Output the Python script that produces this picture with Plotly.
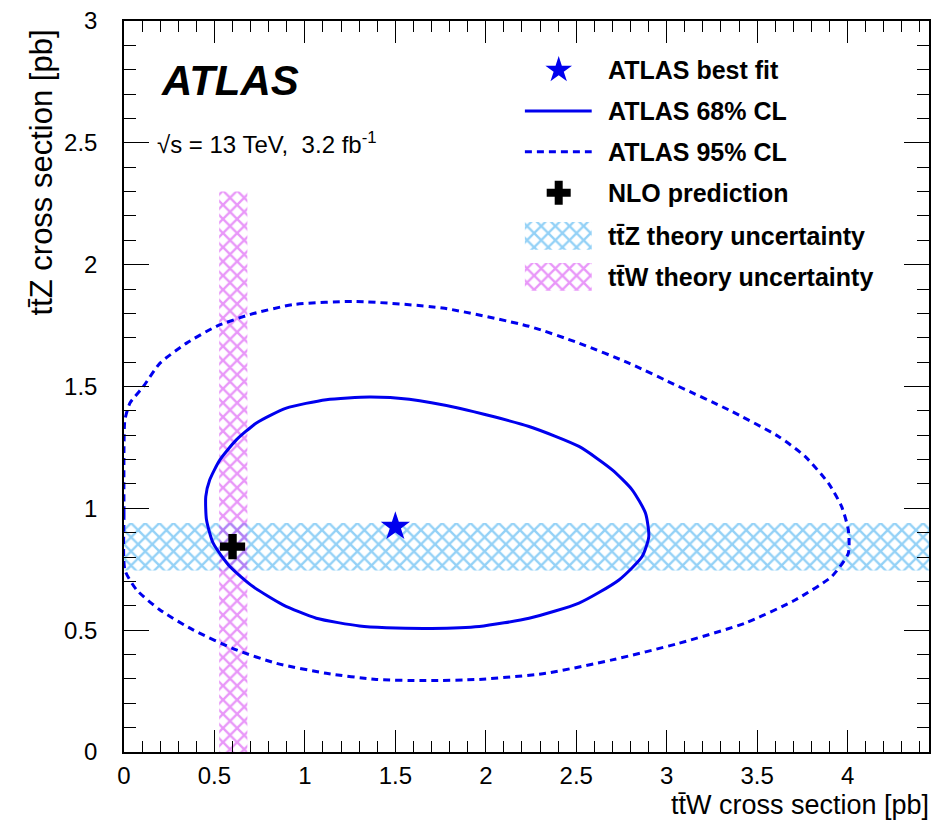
import plotly.graph_objects as go

# ---- measured / predicted values (pb) ----
best_fit_ttW = [1.50]
best_fit_ttZ = [0.925]

nlo_ttW = [0.60]
nlo_ttZ = [0.843]

ttZ_theory_band = [0.745, 0.940]      # lower, upper on ttZ
ttW_theory_band = [0.526, 0.682]      # lower, upper on ttW
ttW_band_height = 2.30                # vertical extent of the ttW band

# 68% CL contour (ttW, ttZ)
cl68_ttW = [0.452, 0.474, 0.530, 0.621, 0.732, 0.897, 1.118, 1.357, 1.577, 1.853,
            2.239, 2.515, 2.699, 2.809, 2.883, 2.901, 2.864, 2.736, 2.515, 2.239,
            1.964, 1.700, 1.450, 1.302, 1.063, 0.879, 0.713, 0.585, 0.493, 0.456, 0.452]
cl68_ttZ = [1.048, 1.117, 1.199, 1.281, 1.350, 1.411, 1.446, 1.457, 1.448, 1.411,
            1.336, 1.254, 1.158, 1.076, 0.980, 0.884, 0.802, 0.706, 0.611, 0.549,
            0.515, 0.507, 0.510, 0.517, 0.549, 0.604, 0.679, 0.761, 0.857, 0.953, 1.048]

# 95% CL contour (ttW, ttZ)
cl95_ttW = [0.005, 0.000, 0.000, 0.005, 0.033, 0.107, 0.199, 0.346, 0.511, 0.695,
            0.934, 1.283, 1.761, 2.239, 2.515, 2.791, 3.067, 3.343, 3.618, 3.765,
            3.894, 3.967, 4.004, 4.004, 3.912, 3.710, 3.434, 3.067, 2.699, 2.331,
            1.964, 1.670, 1.394, 1.118, 0.842, 0.621, 0.382, 0.199, 0.070, 0.005]
cl95_ttZ = [0.747, 0.980, 1.254, 1.363, 1.432, 1.500, 1.596, 1.678, 1.747, 1.795,
            1.836, 1.849, 1.822, 1.747, 1.678, 1.596, 1.500, 1.404, 1.295, 1.213,
            1.103, 1.007, 0.912, 0.816, 0.720, 0.624, 0.529, 0.446, 0.378, 0.323,
            0.298, 0.293, 0.298, 0.323, 0.364, 0.419, 0.501, 0.583, 0.665, 0.747]

x_range = [0.0, 4.45]
y_range = [0.0, 3.0]
tick_vals = [0, 0.5, 1, 1.5, 2, 2.5, 3, 3.5, 4]
tick_text = ["0", "0.5", "1", "1.5", "2", "2.5", "3", "3.5", "4"]

legend_labels = ["ATLAS best fit", "ATLAS 68% CL", "ATLAS 95% CL", "NLO prediction",
                 "tt\u0304Z theory uncertainty", "tt\u0304W theory uncertainty"]

# ---- styling ----
FONT = "Liberation Sans, Arial, Helvetica, sans-serif"
BLUE = "#0000ee"
ZCOL = "#2aa4ee"
WCOL = "#d22ff2"


def hatch(color):
    return dict(shape="x", fgcolor=color, bgcolor="rgba(0,0,0,0)", size=10, solidity=0.42)


fig = go.Figure()

# ttZ theory band across the full ttW range
fig.add_trace(go.Scatter(
    x=[x_range[0], x_range[1], x_range[1], x_range[0], x_range[0]],
    y=[ttZ_theory_band[0], ttZ_theory_band[0], ttZ_theory_band[1], ttZ_theory_band[1], ttZ_theory_band[0]],
    fill="toself", fillcolor="rgba(0,0,0,0)", fillpattern=hatch(ZCOL),
    mode="lines", line=dict(width=0), hoverinfo="skip", showlegend=False))

# ttW theory band
fig.add_trace(go.Scatter(
    x=[ttW_theory_band[0], ttW_theory_band[1], ttW_theory_band[1], ttW_theory_band[0], ttW_theory_band[0]],
    y=[0, 0, ttW_band_height, ttW_band_height, 0],
    fill="toself", fillcolor="rgba(0,0,0,0)", fillpattern=hatch(WCOL),
    mode="lines", line=dict(width=0), hoverinfo="skip", showlegend=False))

# confidence contours
fig.add_trace(go.Scatter(x=cl95_ttW, y=cl95_ttZ, mode="lines",
                         line=dict(color=BLUE, width=3, dash="7px,5px", shape="spline", smoothing=0.6),
                         showlegend=False))
fig.add_trace(go.Scatter(x=cl68_ttW, y=cl68_ttZ, mode="lines",
                         line=dict(color=BLUE, width=3, shape="spline", smoothing=0.6),
                         showlegend=False))

# NLO prediction and best fit
fig.add_trace(go.Scatter(x=nlo_ttW, y=nlo_ttZ, mode="markers",
                         marker=dict(symbol="cross", size=21, color="black"), showlegend=False))
fig.add_trace(go.Scatter(x=best_fit_ttW, y=best_fit_ttZ, mode="markers",
                         marker=dict(symbol="star", size=22, color=BLUE), showlegend=False))

# ---- legend drawn on an overlay axis spanning the plot area (0..1 both ways) ----
sym_x0, sym_x1, sym_xc = 0.498, 0.581, 0.540
text_x = 0.5985
row_y = [0.933, 0.877, 0.821, 0.765, 0.706, 0.650]
box_half = 0.019

leg = dict(xaxis="x2", yaxis="y2", showlegend=False, hoverinfo="skip")
fig.add_trace(go.Scatter(x=[sym_xc], y=[row_y[0]], mode="markers",
                         marker=dict(symbol="star", size=20, color=BLUE), **leg))
fig.add_trace(go.Scatter(x=[sym_x0, sym_x1], y=[row_y[1]] * 2, mode="lines",
                         line=dict(color=BLUE, width=3), **leg))
fig.add_trace(go.Scatter(x=[sym_x0, sym_x1], y=[row_y[2]] * 2, mode="lines",
                         line=dict(color=BLUE, width=3, dash="7px,5px"), **leg))
fig.add_trace(go.Scatter(x=[sym_xc], y=[row_y[3]], mode="markers",
                         marker=dict(symbol="cross", size=20, color="black"), **leg))
for ry, col in ((row_y[4], ZCOL), (row_y[5], WCOL)):
    fig.add_trace(go.Scatter(
        x=[sym_x0, sym_x1, sym_x1, sym_x0, sym_x0],
        y=[ry - box_half, ry - box_half, ry + box_half, ry + box_half, ry - box_half],
        fill="toself", fillcolor="rgba(0,0,0,0)", fillpattern=hatch(col),
        mode="lines", line=dict(width=0), **leg))

annotations = []
for label, ry in zip(legend_labels, row_y):
    annotations.append(dict(xref="paper", yref="paper", x=text_x, y=ry, text="<b>%s</b>" % label,
                            showarrow=False, xanchor="left", yanchor="middle",
                            font=dict(family=FONT, size=25, color="black")))

annotations += [
    dict(xref="paper", yref="paper", x=0.043, y=0.918, text="<b><i>ATLAS</i></b>",
         showarrow=False, xanchor="left", yanchor="middle",
         font=dict(family=FONT, size=42, color="black")),
    dict(xref="paper", yref="paper", x=0.038, y=0.833,
         text="\u221as = 13 TeV,\u00a0 3.2 fb<sup>-1</sup>",
         showarrow=False, xanchor="left", yanchor="middle",
         font=dict(family=FONT, size=24, color="black")),
    dict(xref="paper", yref="paper", x=1.003, y=-0.073, text="tt\u0304W cross section [pb]",
         showarrow=False, xanchor="right", yanchor="middle",
         font=dict(family=FONT, size=27, color="black")),
    dict(xref="paper", yref="paper", x=-0.102, y=0.991, text="tt\u0304Z cross section [pb]",
         showarrow=False, textangle=-90, xanchor="center", yanchor="top",
         font=dict(family=FONT, size=31, color="black")),
]

axis_common = dict(showgrid=False, zeroline=False, showline=True, linecolor="black", linewidth=1.5,
                   mirror="ticks", ticks="inside", tickcolor="black", tickwidth=1.3,
                   tickfont=dict(family=FONT, size=24, color="black"))

fig.update_layout(
    width=937, height=821,
    margin=dict(l=124, r=6, t=21, b=69),
    plot_bgcolor="white", paper_bgcolor="white",
    xaxis=dict(range=x_range, tickvals=tick_vals, ticktext=tick_text, ticklen=22,
               ticklabelstandoff=1,
               minor=dict(dtick=0.1, tick0=0, ticklen=11, ticks="inside", tickcolor="black",
                          tickwidth=1.2, showgrid=False),
               **axis_common),
    yaxis=dict(range=y_range, dtick=0.5, tick0=0, ticklen=25,
               ticklabelstandoff=20,
               minor=dict(dtick=0.1, tick0=0, ticklen=12, ticks="inside", tickcolor="black",
                          tickwidth=1.2, showgrid=False),
               **axis_common),
    xaxis2=dict(domain=[0, 1], range=[0, 1], overlaying="x", visible=False, fixedrange=True),
    yaxis2=dict(range=[0, 1], overlaying="y", anchor="x2", visible=False, fixedrange=True),
    annotations=annotations,
    showlegend=False,
)

fig.write_html("out.html")
